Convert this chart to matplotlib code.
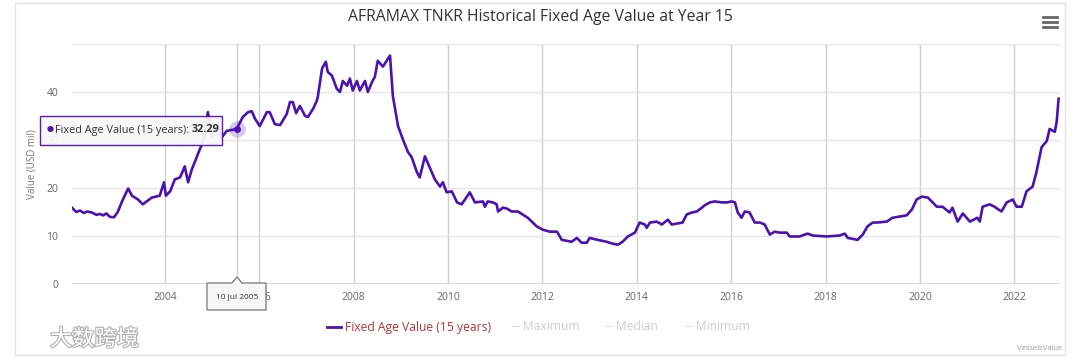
import matplotlib.pyplot as plt
import matplotlib.patheffects as pe
from matplotlib.patches import Rectangle, Polygon
from matplotlib.lines import Line2D

plt.rcParams['font.family'] = ['Open Sans', 'Noto Sans CJK SC', 'DejaVu Sans']

W, H = 1080, 361

title = 'AFRAMAX TNKR Historical Fixed Age Value at Year 15'
y_title = 'Value (USD mil)'
series_name = 'Fixed Age Value (15 years)'
other_series = ['Maximum', 'Median', 'Minimum']
credit = 'VesselsValue'
watermark = '大数跨境'

# fixed age value, USD mil
years = [2002.03, 2002.12, 2002.20, 2002.28, 2002.35, 2002.45, 2002.55, 2002.62,
         2002.69, 2002.76, 2002.83, 2002.92, 2003.00, 2003.09, 2003.22, 2003.30, 2003.43,
         2003.53, 2003.72, 2003.89, 2003.98, 2004.02, 2004.11, 2004.21, 2004.32,
         2004.42, 2004.49, 2004.57, 2004.64, 2004.74, 2004.81, 2004.91, 2005.00,
         2005.12, 2005.20, 2005.31, 2005.52, 2005.65, 2005.76, 2005.84, 2005.91,
         2006.01, 2006.16, 2006.22, 2006.33, 2006.44, 2006.58, 2006.65, 2006.71,
         2006.78, 2006.86, 2006.97, 2007.03, 2007.14, 2007.22, 2007.24, 2007.33,
         2007.41, 2007.45, 2007.54, 2007.64, 2007.71, 2007.77, 2007.86, 2007.92,
         2007.98, 2008.07, 2008.13, 2008.24, 2008.30, 2008.39, 2008.45, 2008.51,
         2008.62, 2008.77, 2008.83, 2008.94, 2009.04, 2009.15, 2009.23, 2009.34,
         2009.40, 2009.51, 2009.61, 2009.72, 2009.83, 2009.89, 2009.97, 2010.08,
         2010.19, 2010.29, 2010.40, 2010.46, 2010.57, 2010.74, 2010.78, 2010.84,
         2010.95, 2011.03, 2011.06, 2011.16, 2011.25, 2011.35, 2011.48, 2011.69,
         2011.88, 2012.01, 2012.16, 2012.31, 2012.41, 2012.52, 2012.62, 2012.73,
         2012.83, 2012.94, 2013.00, 2013.17, 2013.36, 2013.49, 2013.60, 2013.70,
         2013.81, 2013.96, 2014.06, 2014.17, 2014.21, 2014.28, 2014.42, 2014.53,
         2014.66, 2014.74, 2014.97, 2015.06, 2015.17, 2015.27, 2015.38, 2015.44,
         2015.55, 2015.65, 2015.80, 2015.91, 2016.01, 2016.08, 2016.14, 2016.22,
         2016.29, 2016.39, 2016.50, 2016.61, 2016.71, 2016.82, 2016.92, 2017.03,
         2017.18, 2017.24, 2017.45, 2017.62, 2017.73, 2018.03, 2018.30, 2018.41,
         2018.47, 2018.68, 2018.79, 2018.89, 2019.00, 2019.08, 2019.30, 2019.42,
         2019.72, 2019.83, 2019.93, 2020.04, 2020.17, 2020.25, 2020.36, 2020.48,
         2020.63, 2020.69, 2020.80, 2020.91, 2021.06, 2021.22, 2021.27, 2021.33,
         2021.48, 2021.58, 2021.73, 2021.84, 2021.97, 2022.05, 2022.16, 2022.26,
         2022.39, 2022.47, 2022.58, 2022.69, 2022.75, 2022.86, 2022.90, 2022.94]
values = [15.9, 15.0, 15.3, 14.8, 15.1, 14.9, 14.4, 14.6,
          14.3, 14.7, 14.0, 13.9, 15.0, 17.2, 19.9, 18.4, 17.6,
          16.6, 18.0, 18.4, 21.2, 18.4, 19.3, 21.8, 22.2,
          24.5, 21.2, 23.9, 25.6, 28.1, 29.6, 35.8, 30.8,
          33.5, 30.5, 31.9, 32.29, 34.8, 35.8, 36.0, 34.4,
          32.9, 35.8, 35.8, 33.3, 33.1, 35.4, 37.9, 37.9,
          35.6, 37.1, 35.0, 34.8, 36.5, 38.2, 39.0, 44.9,
          46.3, 44.2, 43.4, 40.7, 40.0, 42.3, 41.3, 42.8,
          40.3, 42.3, 40.3, 42.3, 40.0, 42.1, 43.2, 46.5,
          45.3, 47.6, 39.2, 32.9, 30.2, 27.5, 26.4, 23.3,
          22.2, 26.6, 24.3, 21.8, 20.3, 21.2, 19.1, 19.3,
          17.0, 16.6, 18.2, 19.1, 17.0, 17.2, 16.1, 17.2,
          17.0, 16.6, 15.1, 15.9, 15.7, 15.1, 15.1, 13.8,
          12.0, 11.3, 10.9, 10.9, 9.2, 9.0, 8.8, 9.6,
          8.6, 8.6, 9.6, 9.2, 8.8, 8.4, 8.2, 8.8,
          9.9, 10.7, 12.8, 12.4, 11.7, 12.8, 13.0, 12.4,
          13.4, 12.4, 12.8, 14.5, 14.9, 15.1, 15.9, 16.4,
          17.0, 17.2, 17.0, 17.0, 17.2, 17.0, 14.9, 13.8,
          15.1, 14.9, 12.8, 12.8, 12.4, 10.3, 10.9, 10.7,
          10.7, 9.9, 9.9, 10.5, 10.1, 9.9, 10.1, 10.5,
          9.6, 9.2, 10.3, 12.0, 12.8, 12.8, 13.0, 13.8,
          14.3, 15.5, 17.6, 18.2, 18.0, 17.2, 16.1, 16.1,
          14.9, 15.9, 13.0, 14.7, 13.0, 13.8, 13.0, 16.1,
          16.6, 16.1, 15.1, 17.0, 17.6, 16.1, 16.1, 19.3,
          20.3, 23.3, 28.5, 29.8, 32.3, 31.7, 33.8, 38.6]

hover_year = 2005.52
hover_label = '10 Jul 2005'
hover_value = 32.29

x_ticks = list(range(2004, 2023, 2))
y_ticks = [0, 10, 20, 30, 40, 50]

line_color = '#4b12b3'


def fx(px):
    return px / W


def fy(py):
    return 1 - py / H


fig = plt.figure(figsize=(W / 100, H / 100), dpi=100)
fig.patches.append(Rectangle((fx(15), fy(355)), fx(1050), 352 / H, transform=fig.transFigure,
                             fill=False, edgecolor='#e3e3e3', lw=1))

ax = fig.add_axes([fx(72), fy(284), fx(988), 240 / H])
ax.plot(years, values, color=line_color, lw=1.9, solid_joinstyle='round', zorder=3)

ax.set_xlim(2002.03, 2022.97)
ax.set_ylim(0, 50)
ax.set_xticks(x_ticks)
ax.set_xticklabels([str(y) for y in x_ticks])
ax.set_yticks(y_ticks)
ax.set_yticklabels([str(v) if v < 50 else '' for v in y_ticks])
ax.tick_params(length=0, labelsize=7.5, colors='#666666')
ax.tick_params(axis='y', pad=10)
ax.tick_params(axis='x', pad=6)
ax.grid(axis='x', color='#cfcfcf', lw=1)
ax.grid(axis='y', color='#e6e6e6', lw=1)
ax.set_axisbelow(True)
for s in ax.spines.values():
    s.set_visible(False)
ax.axhline(0, color='#ccd6eb', lw=1.2, zorder=2)
ax.set_ylabel(y_title, fontsize=7, color='#777777', labelpad=6)

# crosshair and hovered point
ax.axvline(hover_year, color='#cccccc', lw=1, zorder=1)
ax.plot([hover_year], [hover_value], 'o', ms=12, color=line_color, alpha=0.22, mec='none', zorder=4)
ax.plot([hover_year], [hover_value], 'o', ms=5, color=line_color, mec='none', zorder=5)

fig.text(0.5, fy(17), title, ha='center', va='center', fontsize=11.3, color='#333333')

# menu icon
for yy in (17, 22, 27):
    fig.lines.append(Line2D([fx(1043), fx(1057)], [fy(yy), fy(yy)], transform=fig.transFigure,
                            color='#666666', lw=2))

# tooltip
fig.patches.append(Rectangle((fx(40), fy(145)), fx(182), 29 / H, transform=fig.transFigure,
                             facecolor='#f7f7f7', edgecolor=line_color, lw=1, alpha=0.95, zorder=10))
fig.text(fx(47), fy(130), '\u25CF', fontsize=5, color=line_color, va='center', zorder=11)
t1 = fig.text(fx(55), fy(130), series_name + ': ', fontsize=7.8, color='#333333', va='center', zorder=11)
fig.canvas.draw()
bb = t1.get_window_extent()
fig.text(bb.x1 / W, fy(130), f'{hover_value:.2f}', fontsize=7.8, color='#333333',
         fontweight='bold', va='center', zorder=11)

# date label under crosshair
cx = 237
pts = [(207, 283), (cx - 5, 283), (cx, 277), (cx + 5, 283), (266, 283), (266, 310), (207, 310)]
fig.patches.append(Polygon([(fx(a), fy(b)) for a, b in pts], closed=True, transform=fig.transFigure,
                           facecolor='#f7f7f7', edgecolor='#777777', lw=0.9, zorder=10))
fig.text(fx(cx), fy(297), hover_label, fontsize=6, color='#333333', ha='center', va='center', zorder=11)

# legend
fig.lines.append(Line2D([fx(327), fx(341)], [fy(327), fy(327)], transform=fig.transFigure,
                        color=line_color, lw=2))
fig.text(fx(345), fy(327), series_name, fontsize=8.7, color='#b8352f', va='center')
for name, px in zip(other_series, (512, 605, 685)):
    fig.text(fx(px), fy(327), '-- ' + name, fontsize=8.7, color='#cccccc', va='center')

fig.text(fx(1062), fy(348), credit, fontsize=5.5, color='#999999', ha='right', va='center')

fig.text(fx(50), fy(340), watermark, fontsize=16, color='white', va='center',
         path_effects=[pe.withStroke(linewidth=1.6, foreground='#b0b0b0')])

fig.savefig('out.png', dpi=100)
